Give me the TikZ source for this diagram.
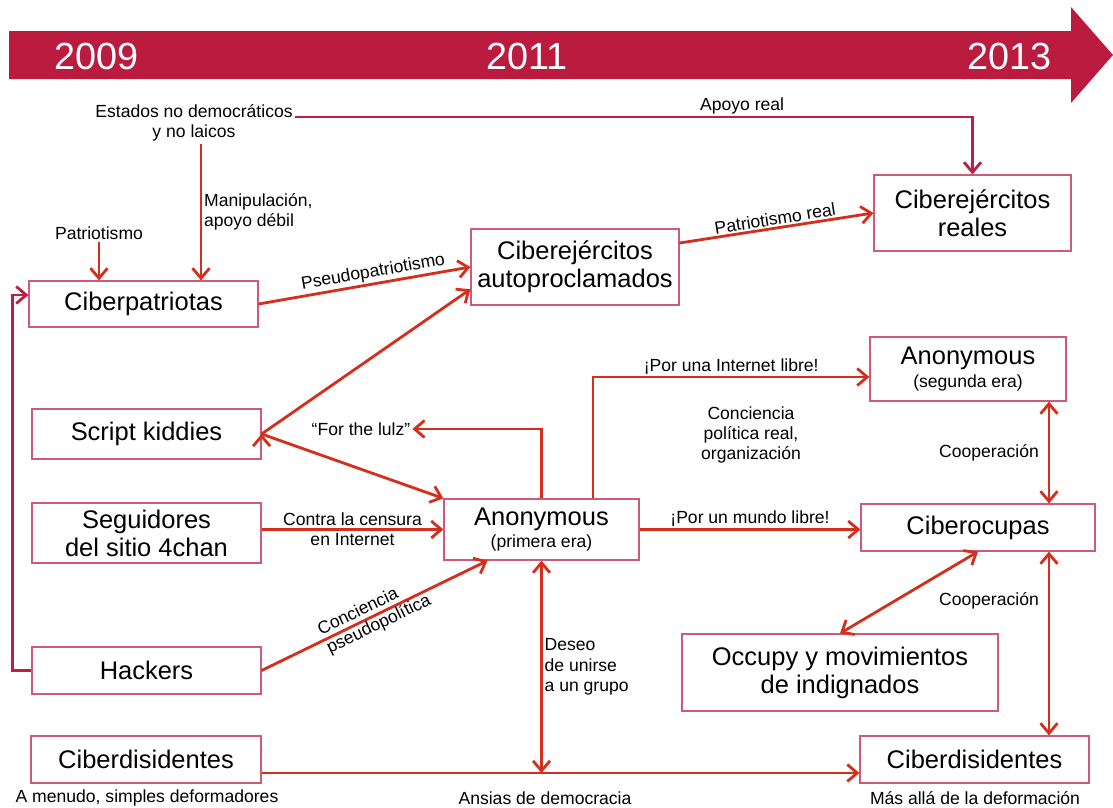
\documentclass[tikz,border=0pt]{standalone}
\usepackage{fontspec}
\setmainfont{Liberation Sans}
\usetikzlibrary{positioning, calc, arrows.meta}
\definecolor{banred}{RGB}{186,27,62}
\definecolor{arrred}{RGB}{212,46,28}
\definecolor{boxred}{RGB}{204,90,120}
\definecolor{crim}{RGB}{190,30,70}

\begin{document}
\begin{tikzpicture}[x=0.02cm, y=-0.02cm,
  box/.style={draw=boxred, line width=0.7pt, align=center, inner sep=1pt, font=\fontsize{14.5}{16}\selectfont},
  lbl/.style={align=center, inner sep=1pt, font=\fontsize{10}{11.5}\selectfont},
  yr/.style={text=white, inner sep=0pt, font=\fontsize{21.5}{24}\selectfont},
  arr/.style={draw=arrred, line width=1.6pt, -{Straight Barb[length=2mm,width=3.4mm]}},
  darr/.style={arr, {Straight Barb[length=2mm,width=3.4mm]}-{Straight Barb[length=2mm,width=3.4mm]}},
  back/.style={draw=crim, line width=1.6pt, -{Straight Barb[length=2mm,width=3.4mm]}}]
\useasboundingbox (0,0) rectangle (1113,808);

% timeline
\fill[banred] (9,31) -- (1071,31) -- (1071,7) -- (1113,55) -- (1071,103) -- (1071,79) -- (9,79) -- cycle;
\node[yr] (y09) at (97,56) {2009};
\node[yr] (y11) at (527,56) {2011};
\node[yr] (y13) at (1010,56) {2013};

% left column
\node[box, minimum width=4.58cm, minimum height=0.92cm] (cpat) at (143.5,304) {Ciberpatriotas};
\node[box, minimum width=4.58cm, minimum height=1.0cm] (skid) at (146.5,434) {Script kiddies};
\node[box, minimum width=4.58cm, minimum height=1.2cm] (seg) at (146.5,533) {Seguidores\\del sitio 4chan};
\node[box, minimum width=4.58cm, minimum height=0.94cm] (hack) at (146.5,670.5) {Hackers};
\node[box, minimum width=4.6cm, minimum height=0.94cm] (cdisL) at (146,759.5) {Ciberdisidentes};

% middle and right
\node[box, minimum width=4.16cm, minimum height=1.52cm] (auto) at (575,267) {Ciberejércitos\\autoproclamados};
\node[box, minimum width=3.94cm, minimum height=1.52cm] (reales) at (972.5,213) {Ciberejércitos\\reales};
\node[box, minimum width=3.9cm, minimum height=1.22cm] (anon1) at (541.5,529.5) {Anonymous\\[-3pt]{\fontsize{10}{12}\selectfont (primera era)}};
\node[box, minimum width=3.92cm, minimum height=1.28cm] (anon2) at (968,369) {Anonymous\\[-3pt]{\fontsize{10}{12}\selectfont (segunda era)}};
\node[box, minimum width=4.68cm, minimum height=0.94cm] (ocup) at (978,527.5) {Ciberocupas};
\node[box, minimum width=6.32cm, minimum height=1.54cm] (occupy) at (840,672.5) {Occupy y movimientos\\de indignados};
\node[box, minimum width=4.58cm, minimum height=0.94cm] (cdisR) at (974.5,759.5) {Ciberdisidentes};

% free texts
\node[lbl] (estados) at (194,123) {Estados no democráticos\\y no laicos};
\node[lbl] (patr) at (99,233) {Patriotismo};
\node[lbl] (lulz) at (361,429) {“For the lulz”};
\node[lbl] (conc) at (751,435) {Conciencia\\política real,\\organización};
\node[lbl] (capL) at (147,798) {A menudo, simples deformadores};
\node[lbl] (capM) at (545,798) {Ansias de democracia};
\node[lbl] (capR) at (975,798) {Más allá de la deformación};

\coordinate (m1) at ([xshift=0.14cm]estados.south);
\coordinate (m2) at ([xshift=1.03cm]anon1.north);
\coordinate (m3) at (1049,0);
\coordinate (m4) at ([yshift=-0.27cm]cdisL.east);

\draw[back] (estados.east) ++(0,-6) -| (reales.north) node[lbl, pos=0.33, above] {Apoyo real};
\draw[arr] (m1) -- (m1 |- cpat.north) node[lbl, midway, right, align=left] {Manipulación,\\apoyo débil};
\draw[arr] (patr.south) -- (patr.south |- cpat.north);
\draw[arr] (cpat.east) -- (auto.west) node[lbl, pos=0.55, above, sloped] {Pseudopatriotismo};
\draw[arr] ([yshift=0.48cm]auto.east) -- (reales.west) node[lbl, midway, above, sloped] {Patriotismo real};
\path[arr]
    (skid.east) edge (auto.192)
    (skid.east) edge (anon1.north west);
\draw[arr] (anon1.west -| seg.east) -- (anon1.west) node[lbl, midway] {Contra la censura\\en Internet};
\draw[arr] (hack.east) -- (anon1.210) node[lbl, pos=0.5, sloped, align=left] {Conciencia\\pseudopolítica};
\draw[arr] (anon1.north) |- (lulz.east);
\draw[arr] (m2) |- ([yshift=-0.16cm]anon2.west) node[lbl, pos=0.75, above] {¡Por una Internet libre!};
\draw[arr] (anon1.east) -- (anon1.east -| ocup.west) node[lbl, midway, above] {¡Por un mundo libre!};
\draw[darr] (m3 |- anon2.south) -- (m3 |- ocup.north) node[lbl, midway, left, xshift=-4pt] {Cooperación};
\draw[darr] (ocup.south) -- (occupy.north);
\draw[darr] (m3 |- ocup.south) -- (m3 |- cdisR.north) node[lbl, pos=0.27, left, xshift=-4pt] {Cooperación};
\draw[arr] (m4) -- (m4 -| cdisR.west);
\draw[darr] (anon1.south) -- (anon1.south |- m4) node[lbl, midway, right, align=left] {Deseo\\de unirse\\a un grupo};
\draw[back] (hack.west) -- ++(-19,0) |- ([yshift=0.18cm]cpat.west);
\end{tikzpicture}
\end{document}
